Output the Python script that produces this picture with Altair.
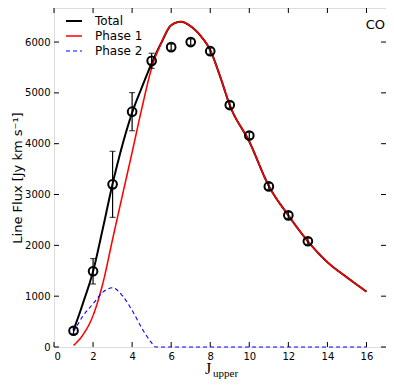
import altair as alt
import pandas as pd

# Observed CO line fluxes
J_obs = [1, 2, 3, 4, 5, 6, 7, 8, 9, 10, 11, 12, 13]
flux_obs = [320, 1490, 3200, 4630, 5630, 5900, 6000, 5820, 4760, 4160, 3160, 2590, 2080]
err_obs = [60, 250, 650, 375, 150, 60, 60, 60, 60, 60, 60, 60, 60]

# Model curves
J_model = [1, 1.5, 2, 2.5, 3, 3.5, 4, 4.5, 5, 5.5, 6, 6.5, 7, 7.5, 8, 8.5, 9, 10, 11, 12, 13, 14, 15, 16]
flux_total = [330, 880, 1490, 2330, 3210, 3970, 4610, 5110, 5580, 5990, 6330, 6400, 6310, 6125, 5840,
              5330, 4760, 4040, 3170, 2590, 2080, 1670, 1370, 1090]
flux_phase1 = [30, 250, 620, 1250, 2120, 2980, 3830, 4700, 5490, 5990, 6330, 6400, 6310, 6125, 5840,
               5330, 4760, 4040, 3170, 2590, 2080, 1670, 1370, 1090]
J_phase2 = [1, 1.5, 2, 2.5, 3, 3.5, 4, 4.5, 5, 5.2, 6, 8, 10, 12, 14, 16]
flux_phase2 = [300, 620, 850, 1080, 1165, 1010, 720, 370, 80, 0, 0, 0, 0, 0, 0, 0]

series_names = ["Total", "Phase 1", "Phase 2"]
series_colors = ["#000000", "#ff0000", "#0000ff"]
series_dash = [[1, 0], [1, 0], [4, 3]]
series_width = [2, 1.1, 1.3]

x_ticks = [0, 2, 4, 6, 8, 10, 12, 14, 16]
y_ticks = [0, 1000, 2000, 3000, 4000, 5000, 6000]

W, H = 332, 339
FONT = "DejaVu Sans"

xs = alt.Scale(domain=[0, 17], nice=False, zero=False)
ys = alt.Scale(domain=[0, 6670], nice=False, zero=False)

lines_df = pd.concat([
    pd.DataFrame({"J": J_model, "flux": flux_total, "series": "Total"}),
    pd.DataFrame({"J": J_model, "flux": flux_phase1, "series": "Phase 1"}),
    pd.DataFrame({"J": J_phase2, "flux": flux_phase2, "series": "Phase 2"}),
])

obs_df = pd.DataFrame({"J": J_obs, "flux": flux_obs, "err": err_obs})
obs_df["lo"] = obs_df["flux"] - obs_df["err"]
obs_df["hi"] = obs_df["flux"] + obs_df["err"]

leg = alt.Legend(
    title=None, orient="none", legendX=11, legendY=4, padding=0,
    symbolType="stroke", symbolSize=256, labelFont=FONT, labelFontSize=12,
    labelColor="black", rowPadding=0, labelOffset=12, symbolStrokeWidth=1.5,
)

x_enc = alt.X("J:Q", scale=xs, axis=alt.Axis(
    values=x_ticks, title=None, ticks=False, domain=False, grid=False, format="d",
    labelFont=FONT, labelFontSize=10, labelColor="black", labelPadding=4))
y_enc = alt.Y("flux:Q", scale=ys, axis=alt.Axis(
    values=y_ticks, title="Line Flux [Jy km s⁻¹]", ticks=False, domain=False, grid=False,
    format="d", labelFont=FONT, labelFontSize=10, labelColor="black", labelPadding=4,
    titleFont=FONT, titleFontSize=13, titleFontWeight="normal", titleColor="black",
    titleX=-33, titleY=H / 2, titleBaseline="alphabetic", titleAngle=270))

layers = []
for name in series_names:
    d = lines_df[lines_df["series"] == name]
    layers.append(
        alt.Chart(d).mark_line(interpolate="monotone").encode(
            x=x_enc, y=y_enc,
            color=alt.Color("series:N", scale=alt.Scale(domain=series_names, range=series_colors), legend=leg),
            strokeDash=alt.StrokeDash("series:N", scale=alt.Scale(domain=series_names, range=series_dash), legend=leg),
            strokeWidth=alt.StrokeWidth("series:N", scale=alt.Scale(domain=series_names, range=series_width), legend=leg),
        )
    )

err_rules = alt.Chart(obs_df).mark_rule(color="black", strokeWidth=1.2).encode(
    x=alt.X("J:Q", scale=xs), y=alt.Y("lo:Q", scale=ys), y2="hi:Q")
caps_lo = alt.Chart(obs_df).mark_tick(color="black", orient="horizontal", size=6, thickness=1.2).encode(
    x=alt.X("J:Q", scale=xs), y=alt.Y("lo:Q", scale=ys))
caps_hi = alt.Chart(obs_df).mark_tick(color="black", orient="horizontal", size=6, thickness=1.2).encode(
    x=alt.X("J:Q", scale=xs), y=alt.Y("hi:Q", scale=ys))
points = alt.Chart(obs_df).mark_point(shape="circle", filled=False, color="black",
                                      strokeWidth=2, size=75, opacity=1).encode(
    x=alt.X("J:Q", scale=xs), y=alt.Y("flux:Q", scale=ys))

xt = pd.DataFrame({"v": x_ticks})
yt = pd.DataFrame({"v": y_ticks})
TL = 5
tick_layers = [
    alt.Chart(xt).mark_rule(color="black", strokeWidth=1).encode(
        x=alt.X("v:Q", scale=xs), y=alt.value(H), y2=alt.value(H - TL)),
    alt.Chart(xt).mark_rule(color="black", strokeWidth=1).encode(
        x=alt.X("v:Q", scale=xs), y=alt.value(0), y2=alt.value(TL)),
    alt.Chart(yt).mark_rule(color="black", strokeWidth=1).encode(
        y=alt.Y("v:Q", scale=ys), x=alt.value(0), x2=alt.value(TL)),
    alt.Chart(yt).mark_rule(color="black", strokeWidth=1).encode(
        y=alt.Y("v:Q", scale=ys), x=alt.value(W - TL), x2=alt.value(W)),
]

co_text = alt.Chart(pd.DataFrame({"t": ["CO"]})).mark_text(
    font=FONT, fontSize=13, align="right", baseline="middle", color="black").encode(
    text="t:N", x=alt.value(W - 1), y=alt.value(17))
j_text = alt.Chart(pd.DataFrame({"t": ["J"]})).mark_text(
    font="Liberation Serif", fontSize=16, align="left", baseline="alphabetic", color="black").encode(
    text="t:N", x=alt.value(151), y=alt.value(H + 27))
up_text = alt.Chart(pd.DataFrame({"t": ["upper"]})).mark_text(
    font="Liberation Serif", fontSize=11, align="left", baseline="alphabetic", color="black").encode(
    text="t:N", x=alt.value(159), y=alt.value(H + 29.5))

chart = alt.layer(
    *layers, err_rules, caps_lo, caps_hi, points, *tick_layers, co_text, j_text, up_text
).properties(
    width=W, height=H,
    autosize=alt.AutoSizeParams(type="none"),
    padding={"left": 46, "top": 0, "right": 0, "bottom": 32},
).configure_view(stroke="black", strokeWidth=1).configure(background="white")

chart.save("out.html", embed_options={"renderer": "svg", "actions": False})
